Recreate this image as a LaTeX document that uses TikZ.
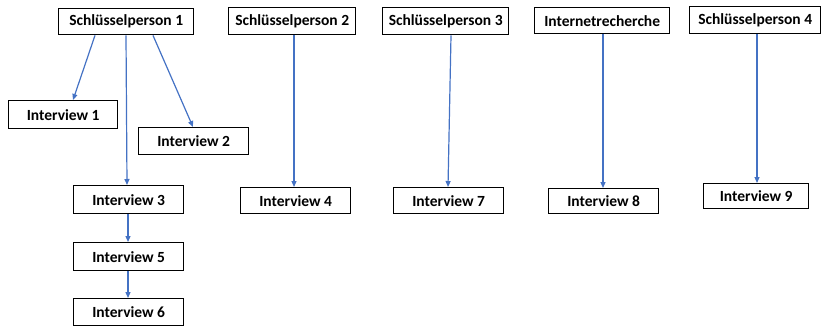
\documentclass[tikz,border=0pt]{standalone}
\usepackage{fontspec}
\setmainfont{Carlito}
\usetikzlibrary{arrows.meta}
\definecolor{linkblue}{HTML}{4472C4}
\begin{document}
\begin{tikzpicture}[x=1pt,y=-1pt,
  box/.style={draw=black,line width=1.4pt,inner sep=0pt,anchor=north west,
    font=\fontsize{15.5}{18}\selectfont\bfseries,align=center},
  link/.style={draw=linkblue,line width=1.2pt,-{Triangle[length=6pt,width=5pt]}}]
\useasboundingbox (0,0) rectangle (821,325);
% boxes: top-left corner, width, height
\newcommand{\boxat}[6]{\node[box,minimum width=#4pt,minimum height=#5pt] (#1) at (#2,#3) {#6};}
\boxat{sp1}{58}{8}{135}{26}{Schlüsselperson 1}
\boxat{sp2}{228}{7}{127}{27}{Schlüsselperson 2}
\boxat{sp3}{382}{7}{126}{27}{Schlüsselperson 3}
\boxat{web}{534}{7}{135}{26}{Internetrecherche}
\boxat{sp4}{689}{6}{131}{27}{Schlüsselperson 4}
\boxat{i1}{8}{100}{109}{28}{Interview 1}
\boxat{i2}{138}{127}{110}{27}{Interview 2}
\boxat{i3}{73}{185}{110}{28}{Interview 3}
\boxat{i5}{73}{242}{110}{28}{Interview 5}
\boxat{i6}{73}{298}{110}{27}{Interview 6}
\boxat{i4}{240}{187}{110}{26}{Interview 4}
\boxat{i7}{393}{187}{110}{26}{Interview 7}
\boxat{i8}{548}{188}{110}{25}{Interview 8}
\boxat{i9}{703}{183}{105}{25}{Interview 9}
% connectors
\draw[link] ([xshift=37pt]sp1.south west) -- ([xshift=65pt]i1.north west);
\draw[link] ([xshift=68pt]sp1.south west) -- ([xshift=54pt]i3.north west);
\draw[link] ([xshift=95pt]sp1.south west) -- ([xshift=55pt]i2.north west);
\draw[link] ([xshift=55pt]i3.south west) -- ([xshift=55pt]i5.north west);
\draw[link] ([xshift=55pt]i5.south west) -- ([xshift=55pt]i6.north west);
\draw[link] ([xshift=66pt]sp2.south west) -- ([xshift=54pt]i4.north west);
\draw[link] ([xshift=69pt]sp3.south west) -- ([xshift=55pt]i7.north west);
\draw[link] ([xshift=69pt]web.south west) -- ([xshift=55pt]i8.north west);
\draw[link] ([xshift=68pt]sp4.south west) -- ([xshift=54pt]i9.north west);
\end{tikzpicture}
\end{document}
